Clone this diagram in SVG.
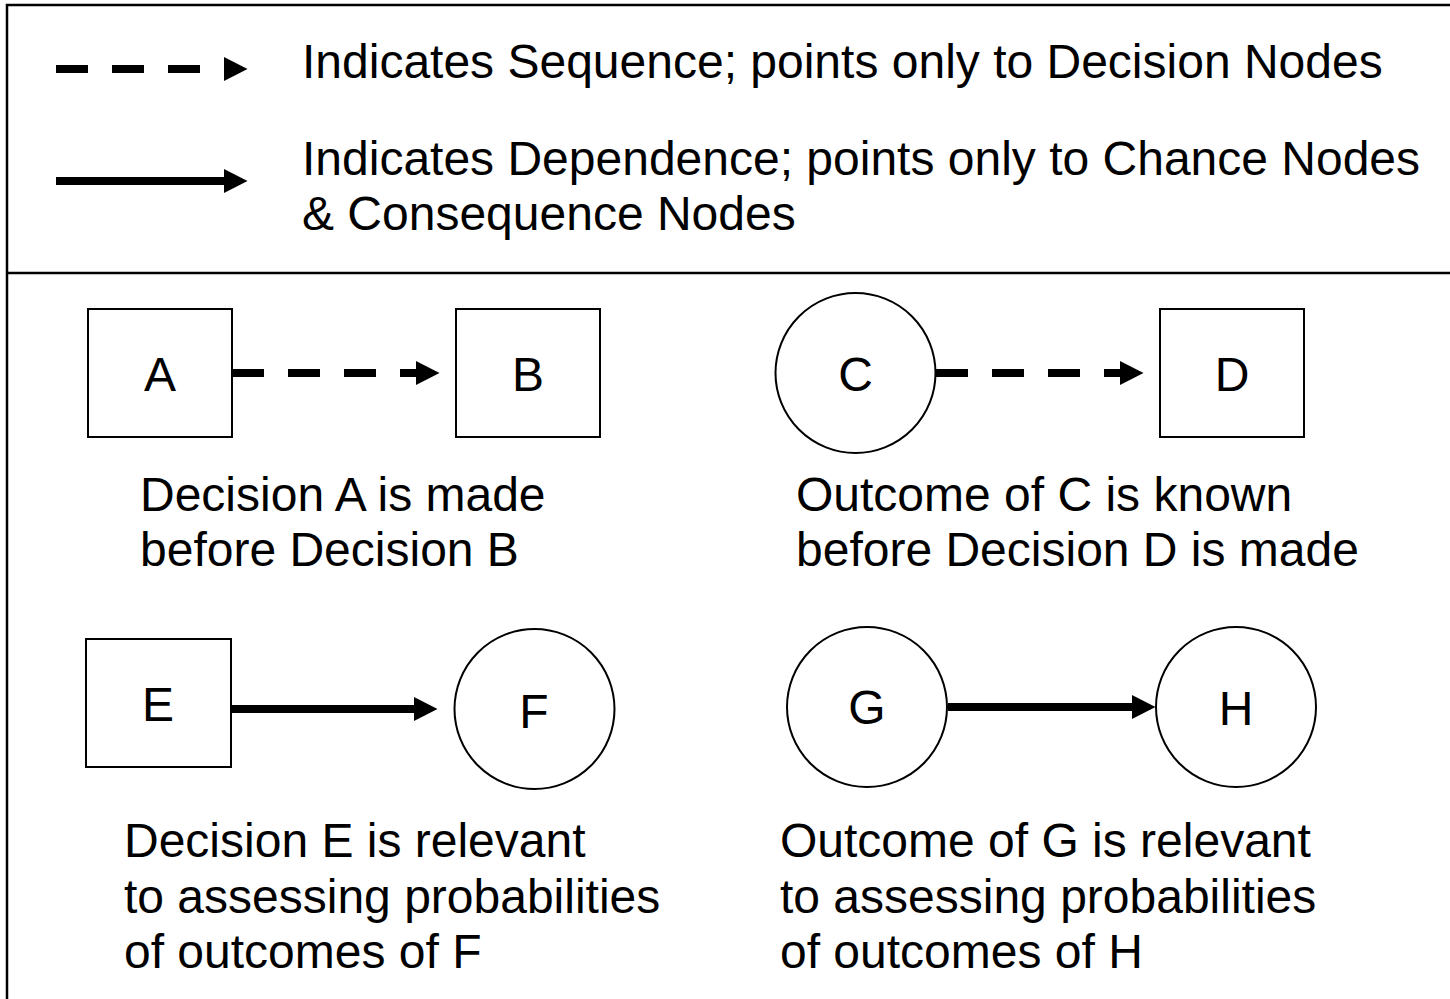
<svg xmlns="http://www.w3.org/2000/svg" width="1450" height="999" viewBox="0 0 1450 999">
  <style>
    text { font-family: "Liberation Sans", Arial, sans-serif; font-size: 48px; fill: #000; }
    .node { fill: #fff; stroke: #000; stroke-width: 2; }
    .lbl { text-anchor: middle; }
    .seq { stroke: #000; stroke-width: 8; stroke-dasharray: 32 24; fill: none; }
    .dep { stroke: #000; stroke-width: 8; fill: none; }
    .frame { fill: none; stroke: #000; stroke-width: 2.5; }
  </style>
  <defs>
    <marker id="arrow" markerUnits="userSpaceOnUse" markerWidth="24" markerHeight="24" refX="0" refY="12" orient="auto" viewBox="0 0 24 24">
      <path d="M0,0 L23.5,12 L0,24 Z" fill="#000"/>
    </marker>
  </defs>
  <rect width="1450" height="999" fill="#fff"/>
  <g id="frame">
    <rect class="frame" x="7" y="5" width="1470" height="1020"/>
    <line class="frame" x1="7" y1="273" x2="1450" y2="273"/>
  </g>
  <g id="legend">
    <line class="seq" x1="56" y1="69" x2="224" y2="69" marker-end="url(#arrow)"/>
    <line class="dep" x1="56" y1="181" x2="224" y2="181" marker-end="url(#arrow)"/>
    <text x="302" y="78">Indicates Sequence; points only to Decision Nodes</text>
    <text x="302" y="175">Indicates Dependence; points only to Chance Nodes</text>
    <text x="302" y="230">&amp; Consequence Nodes</text>
  </g>
  <g id="connectors">
    <line class="seq" x1="232" y1="373" x2="416" y2="373" marker-end="url(#arrow)"/>
    <line class="seq" x1="936" y1="373" x2="1120" y2="373" marker-end="url(#arrow)"/>
    <line class="dep" x1="231" y1="709" x2="414" y2="709" marker-end="url(#arrow)"/>
    <line class="dep" x1="948" y1="707" x2="1132" y2="707" marker-end="url(#arrow)"/>
  </g>
  <g id="node-A">
    <rect class="node" x="88" y="309" width="144" height="128"/>
    <text class="lbl" x="160" y="391">A</text>
  </g>
  <g id="node-B">
    <rect class="node" x="456" y="309" width="144" height="128"/>
    <text class="lbl" x="528" y="391">B</text>
  </g>
  <g id="node-C">
    <circle class="node" cx="855.5" cy="373" r="80"/>
    <text class="lbl" x="855.5" y="391">C</text>
  </g>
  <g id="node-D">
    <rect class="node" x="1160" y="309" width="144" height="128"/>
    <text class="lbl" x="1232" y="391">D</text>
  </g>
  <g id="node-E">
    <rect class="node" x="86" y="639" width="145" height="128"/>
    <text class="lbl" x="158" y="721">E</text>
  </g>
  <g id="node-F">
    <circle class="node" cx="534.5" cy="709" r="80"/>
    <text class="lbl" x="534" y="728">F</text>
  </g>
  <g id="node-G">
    <circle class="node" cx="867" cy="707" r="80"/>
    <text class="lbl" x="867" y="724">G</text>
  </g>
  <g id="node-H">
    <circle class="node" cx="1236" cy="707" r="80"/>
    <text class="lbl" x="1236" y="725">H</text>
  </g>
  <g id="captions">
    <text x="140" y="511">Decision A is made</text>
    <text x="140" y="566">before Decision B</text>
    <text x="796" y="511">Outcome of C is known</text>
    <text x="796" y="566">before Decision D is made</text>
    <text x="124" y="857">Decision E is relevant</text>
    <text x="124" y="913">to assessing probabilities</text>
    <text x="124" y="968">of outcomes of F</text>
    <text x="780" y="857">Outcome of G is relevant</text>
    <text x="780" y="913">to assessing probabilities</text>
    <text x="780" y="968">of outcomes of H</text>
  </g>
</svg>
